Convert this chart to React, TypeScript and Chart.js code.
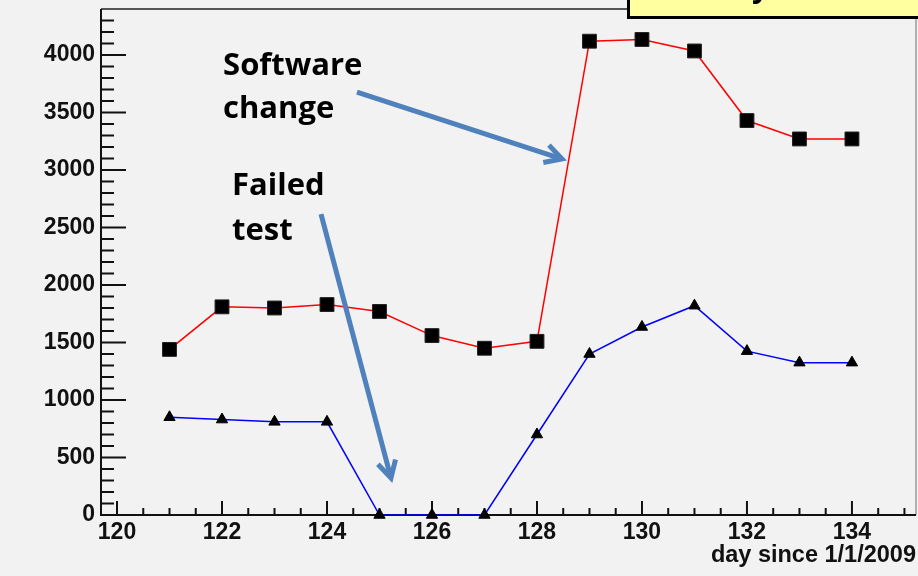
import React, { useEffect, useRef } from "react";
import { Chart, registerables } from "chart.js";

Chart.register(...registerables);

const days = [121, 122, 123, 124, 125, 126, 127, 128, 129, 130, 131, 132, 133, 134];
const redValues = [1440, 1810, 1800, 1830, 1770, 1560, 1450, 1510, 4120, 4135, 4035, 3430, 3270, 3270];
const blueValues = [850, 830, 810, 810, 0, 0, 0, 700, 1400, 1635, 1820, 1425, 1325, 1325];
const xTickValues = [120, 122, 124, 126, 128, 130, 132, 134];
const yTickValues = [0, 500, 1000, 1500, 2000, 2500, 3000, 3500, 4000];
const xTitle = "day since 1/1/2009";
const annotationLines = [
  { text: "Software", x: 122.02, y: 3826 },
  { text: "change", x: 122.02, y: 3452 },
  { text: "Failed", x: 122.19, y: 2783 },
  { text: "test", x: 122.19, y: 2391 },
];
const arrows = [
  { x0: 124.571, y0: 3678, x1: 128.476, y1: 3096 },
  { x0: 123.886, y0: 2617, x1: 125.219, y1: 322 },
];

const X_MIN = 119.695;
const X_MAX = 135.22;
const Y_MIN = 0;
const Y_MAX = 4400;

function drawArrow(ctx: CanvasRenderingContext2D, ax: number, ay: number, bx: number, by: number) {
  const ang = Math.atan2(by - ay, bx - ax);
  const head = 19;
  const spread = 0.5;
  ctx.save();
  ctx.strokeStyle = "#4f81bd";
  ctx.lineWidth = 5;
  ctx.lineCap = "butt";
  ctx.beginPath();
  ctx.moveTo(ax, ay);
  ctx.lineTo(bx - Math.cos(ang) * 2, by - Math.sin(ang) * 2);
  ctx.stroke();
  ctx.lineJoin = "miter";
  ctx.beginPath();
  ctx.moveTo(bx - head * Math.cos(ang - spread), by - head * Math.sin(ang - spread));
  ctx.lineTo(bx, by);
  ctx.lineTo(bx - head * Math.cos(ang + spread), by - head * Math.sin(ang + spread));
  ctx.stroke();
  ctx.restore();
}

const bgPlugin = {
  id: "bgPlugin",
  beforeDraw(chart: any) {
    const { ctx, width, height } = chart;
    ctx.save();
    ctx.fillStyle = "#f2f2f2";
    ctx.fillRect(0, 0, width, height);
    ctx.restore();
  },
};

const framePlugin = {
  id: "framePlugin",
  beforeDatasetsDraw(chart: any) {
    const { ctx, chartArea } = chart;
    const xs = chart.scales.x;
    const ys = chart.scales.y;
    const { left, right, top, bottom } = chartArea;
    ctx.save();
    ctx.strokeStyle = "#555";
    ctx.lineWidth = 2;
    ctx.beginPath();
    ctx.moveTo(left, top);
    ctx.lineTo(right, top);
    ctx.stroke();
    ctx.strokeStyle = "#9a9a9a";
    ctx.lineWidth = 1.5;
    ctx.beginPath();
    ctx.moveTo(right, top);
    ctx.lineTo(right, bottom);
    ctx.stroke();
    ctx.strokeStyle = "#111";
    ctx.lineWidth = 2;
    ctx.beginPath();
    ctx.moveTo(left, top);
    ctx.lineTo(left, bottom);
    ctx.lineTo(right, bottom);
    ctx.stroke();
    for (let v = 0; v <= Y_MAX; v += 100) {
      const py = ys.getPixelForValue(v);
      if (py < top + 2) continue;
      const major = v % 500 === 0;
      ctx.beginPath();
      ctx.moveTo(left, py);
      ctx.lineTo(left + (major ? 25 : 13), py);
      ctx.stroke();
    }
    for (let v = 120; v <= X_MAX; v += 0.5) {
      const px = xs.getPixelForValue(v);
      const major = Math.abs(v % 2) < 1e-6;
      ctx.beginPath();
      ctx.moveTo(px, bottom);
      ctx.lineTo(px, bottom - (major ? 14 : 7));
      ctx.stroke();
    }
    ctx.restore();
  },
  afterDraw(chart: any) {
    const { ctx } = chart;
    const xs = chart.scales.x;
    const ys = chart.scales.y;
    ctx.save();
    for (const a of arrows) {
      drawArrow(
        ctx,
        xs.getPixelForValue(a.x0),
        ys.getPixelForValue(a.y0),
        xs.getPixelForValue(a.x1),
        ys.getPixelForValue(a.y1)
      );
    }
    ctx.fillStyle = "#000";
    ctx.font = "bold 31px 'Open Sans', Lato, sans-serif";
    ctx.textAlign = "left";
    ctx.textBaseline = "alphabetic";
    for (const t of annotationLines) {
      ctx.fillText(t.text, xs.getPixelForValue(t.x), ys.getPixelForValue(t.y));
    }
    ctx.fillStyle = "#ffffa0";
    ctx.fillRect(627, -10, 320, 28);
    ctx.strokeStyle = "#000";
    ctx.lineWidth = 3;
    ctx.strokeRect(628.5, -10, 320, 27.5);
    ctx.fillStyle = "#000";
    ctx.font = "bold 30px 'Open Sans', sans-serif";
    ctx.fillText("y", 752, -3);
    ctx.restore();
  },
};

function zeroPadding(scale: any) {
  scale.paddingTop = 0;
  scale.paddingBottom = 0;
  scale.paddingLeft = 0;
  scale.paddingRight = 0;
}

export default function App() {
  const ref = useRef<HTMLCanvasElement | null>(null);
  useEffect(() => {
    document.body.style.margin = "0";
    document.body.style.background = "#f2f2f2";
    const canvas = ref.current;
    if (!canvas) return;
    const tickFont = { family: "'Liberation Sans', Arial, sans-serif", size: 23, weight: "bold" as const };
    const chart = new Chart(canvas, {
      type: "line",
      data: {
        datasets: [
          {
            data: days.map((d, i) => ({ x: d, y: redValues[i] })),
            borderColor: "#ff0000",
            borderWidth: 1.5,
            pointStyle: "rect",
            pointRadius: 9.8,
            pointBackgroundColor: "#000",
            pointBorderColor: "#222",
            pointBorderWidth: 1,
            tension: 0,
            clip: false,
          },
          {
            data: days.map((d, i) => ({ x: d, y: blueValues[i] })),
            borderColor: "#0000ff",
            borderWidth: 1.5,
            pointStyle: "triangle",
            pointRadius: 6.5,
            pointBackgroundColor: "#000",
            pointBorderColor: "#000",
            pointBorderWidth: 1,
            tension: 0,
            clip: false,
          },
        ],
      },
      options: {
        animation: false,
        responsive: false,
        devicePixelRatio: 1,
        layout: { autoPadding: false, padding: { left: 0, top: 9, right: 2, bottom: 0 } },
        plugins: { legend: { display: false }, tooltip: { enabled: false }, title: { display: false } },
        scales: {
          x: {
            type: "linear",
            min: X_MIN,
            max: X_MAX,
            grid: { display: false, drawTicks: false },
            border: { display: false },
            ticks: {
              font: tickFont,
              color: "#111",
              padding: 4,
              maxRotation: 0,
              autoSkip: false,
              callback: (v: any) => String(v),
            },
            title: {
              display: true,
              text: xTitle,
              align: "end",
              color: "#111",
              font: { family: "'Liberation Sans', Arial, sans-serif", size: 23.5, weight: "bold" },
              padding: { top: 0, bottom: 6 },
            },
            afterBuildTicks: (scale: any) => {
              scale.ticks = xTickValues.map((v) => ({ value: v }));
            },
            afterFit: (scale: any) => {
              scale.height = 61;
              zeroPadding(scale);
            },
          },
          y: {
            type: "linear",
            min: Y_MIN,
            max: Y_MAX,
            grid: { display: false, drawTicks: false },
            border: { display: false },
            ticks: {
              font: tickFont,
              color: "#111",
              padding: 6,
              autoSkip: false,
              callback: (v: any) => String(v),
            },
            afterBuildTicks: (scale: any) => {
              scale.ticks = yTickValues.map((v) => ({ value: v }));
            },
            afterFit: (scale: any) => {
              scale.width = 101;
              zeroPadding(scale);
            },
          },
        },
      },
      plugins: [bgPlugin, framePlugin],
    });
    return () => chart.destroy();
  }, []);
  return (
    <div style={{ width: 918, height: 576 }}>
      <canvas ref={ref} width={918} height={576} style={{ display: "block", width: 918, height: 576 }} />
    </div>
  );
}
